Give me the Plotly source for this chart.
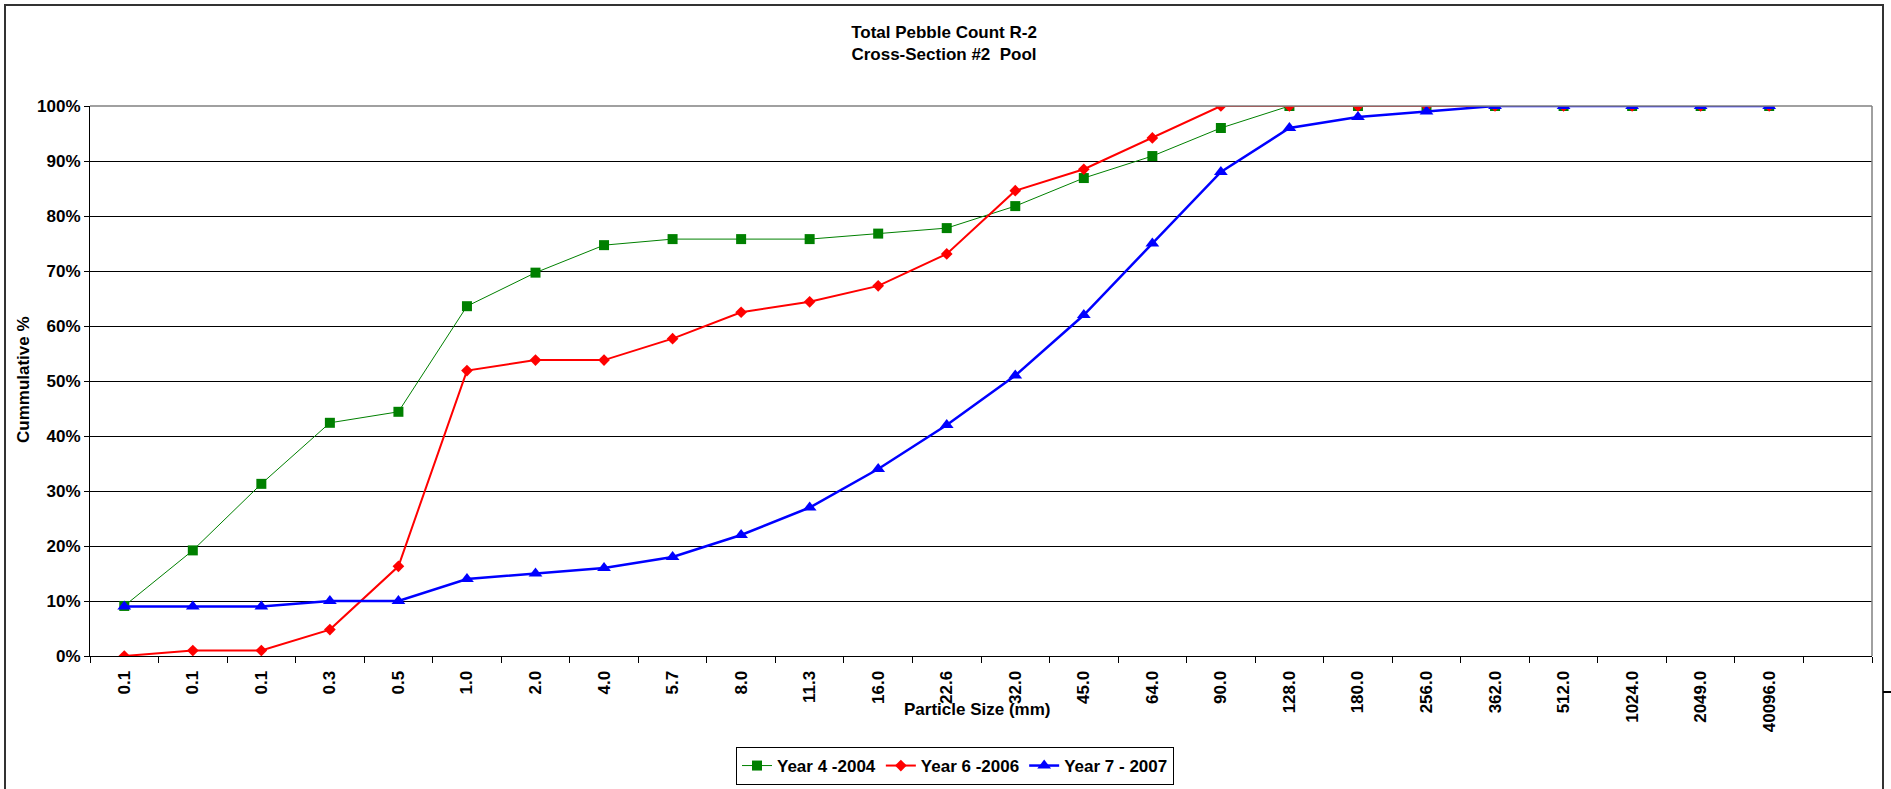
import plotly.graph_objects as go

# Sieve classes (mm) shown along the bottom axis
particle_sizes = ["0.1", "0.1", "0.1", "0.3", "0.5", "1.0", "2.0", "4.0", "5.7", "8.0",
                  "11.3", "16.0", "22.6", "32.0", "45.0", "64.0", "90.0", "128.0", "180.0",
                  "256.0", "362.0", "512.0", "1024.0", "2049.0", "40096.0"]

# Cumulative percent finer for each survey year
year4_2004 = [9.1, 19.2, 31.3, 42.4, 44.4, 63.6, 69.7, 74.7, 75.8, 75.8,
              75.8, 76.8, 77.8, 81.8, 86.9, 90.9, 96.0, 100, 100, 100,
              100, 100, 100, 100, 100]
year6_2006 = [0.0, 1.0, 1.0, 4.8, 16.3, 51.9, 53.8, 53.8, 57.7, 62.5,
              64.4, 67.3, 73.1, 84.6, 88.5, 94.2, 100, 100, 100, 100,
              100, 100, 100, 100, 100]
year7_2007 = [9, 9, 9, 10, 10, 14, 15, 16, 18, 22,
              27, 34, 42, 51, 62, 75, 88, 96, 98, 99,
              100, 100, 100, 100, 100]

y_ticks = list(range(0, 101, 10))
y_tick_labels = [f"{v}%" for v in y_ticks]

FONT = "Liberation Sans, Arial, sans-serif"
W, H = 1891, 789
L, R, T, B = 90, 19, 106, 133
PW, PH = W - L - R, H - T - B


def px(x):
    return (x - L) / PW


def py(y):
    return (H - B - y) / PH


pos = list(range(len(particle_sizes)))

fig = go.Figure()
fig.add_trace(go.Scatter(
    x=pos, y=year4_2004, name="Year 4 -2004", mode="lines+markers",
    line=dict(color="#008000", width=1),
    marker=dict(symbol="square", size=10, color="#008000"),
))
fig.add_trace(go.Scatter(
    x=pos, y=year6_2006, name="Year 6 -2006", mode="lines+markers",
    line=dict(color="#FF0000", width=2),
    marker=dict(symbol="diamond", size=9, color="#FF0000"),
))
fig.add_trace(go.Scatter(
    x=pos, y=year7_2007, name="Year 7 - 2007", mode="lines+markers",
    line=dict(color="#0000FF", width=2.5),
    marker=dict(symbol="triangle-up", size=12, color="#0000FF"),
))

tickfont = dict(family=FONT, size=17, color="black", weight="bold")

fig.update_layout(
    width=W, height=H,
    margin=dict(l=L, r=R, t=T, b=B, pad=0, autoexpand=False),
    paper_bgcolor="white", plot_bgcolor="white",
    font=dict(family=FONT, size=17, color="black"),
    title=dict(
        text="<b>Total Pebble Count R-2<br>Cross-Section #2 \u00a0Pool</b>",
        font=dict(family=FONT, size=17, color="black"),
        xref="container", x=944 / W, xanchor="center",
        yref="container", y=1 - 38 / H, yanchor="top",
    ),
    xaxis=dict(
        range=[-0.5, len(particle_sizes) + 0.5],
        tickmode="array", tickvals=pos, ticktext=particle_sizes,
        tickangle=-90, tickfont=tickfont, ticks="", ticklabelstandoff=7,
        showgrid=False, zeroline=False, automargin=False,
        showline=True, linecolor="black", linewidth=1,
        minor=dict(tick0=-0.5, dtick=1, ticks="outside", ticklen=6,
                   tickcolor="black", tickwidth=1, showgrid=False),
    ),
    yaxis=dict(
        range=[0, 100], tickmode="array", tickvals=y_ticks, ticktext=y_tick_labels,
        tickfont=tickfont, ticks="outside", ticklen=5, tickcolor="black",
        showgrid=True, gridcolor="black", gridwidth=1, automargin=False,
        zeroline=False, showline=True, linecolor="black", linewidth=1,
    ),
    legend=dict(
        orientation="h", xref="container", yref="container",
        x=955 / W, xanchor="center", y=1 - 747 / H, yanchor="top",
        font=dict(family=FONT, size=17, color="black", weight="bold"),
        bordercolor="black", borderwidth=1, bgcolor="white",
        itemwidth=30, tracegroupgap=0,
    ),
    showlegend=True,
)

fig.add_annotation(
    text="<b>Particle Size (mm)</b>", xref="paper", yref="paper",
    x=px(977), y=py(709), xanchor="center", yanchor="middle",
    showarrow=False, font=dict(family=FONT, size=17, color="black"),
)
fig.add_annotation(
    text="<b>Cummulative %</b>", xref="paper", yref="paper", textangle=-90,
    x=px(23), y=py(380), xanchor="center", yanchor="middle",
    showarrow=False, font=dict(family=FONT, size=17, color="black"),
)

# plot-area frame on the top and right sides
fig.add_shape(type="line", xref="paper", yref="paper", x0=0, x1=1, y0=1, y1=1,
              line=dict(color="#808080", width=1.5))
fig.add_shape(type="line", xref="paper", yref="paper", x0=1, x1=1, y0=0, y1=1,
              line=dict(color="#808080", width=1.5))

# outer chart frame
fig.add_shape(type="rect", xref="paper", yref="paper",
              x0=px(5), x1=px(1883), y0=py(800), y1=py(5),
              line=dict(color="#333333", width=2), layer="below")
fig.add_shape(type="line", xref="paper", yref="paper",
              x0=px(1883), x1=px(1891), y0=py(692), y1=py(692),
              line=dict(color="black", width=2))

fig.write_html("out.html")
